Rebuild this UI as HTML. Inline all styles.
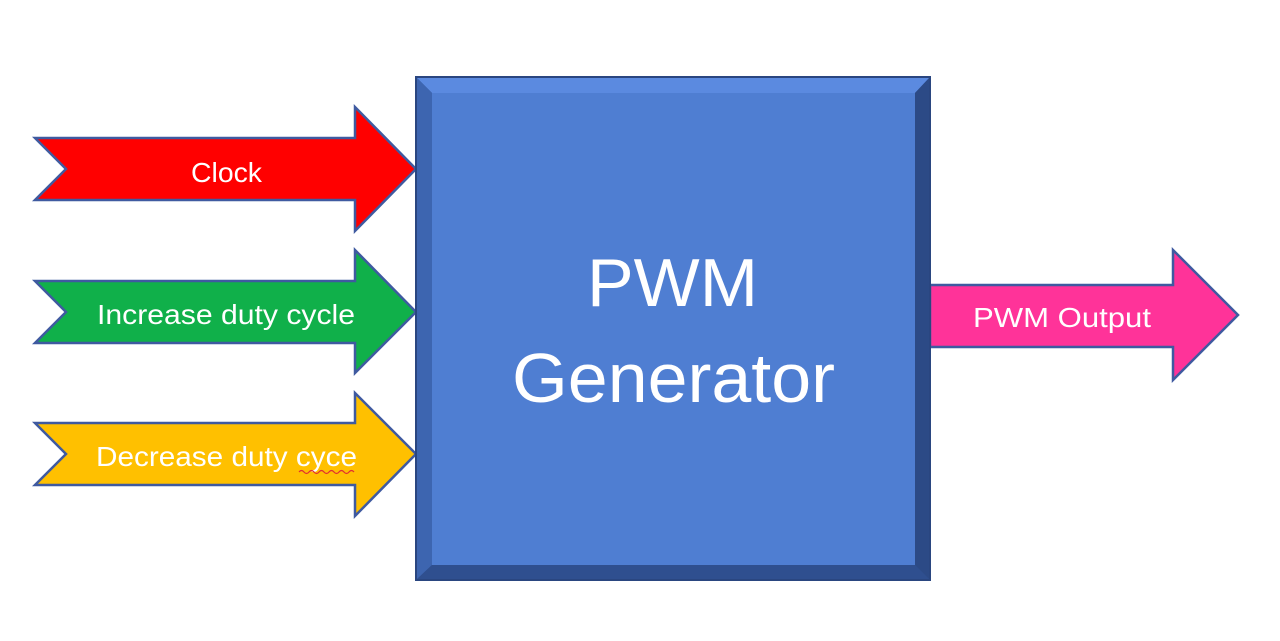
<!DOCTYPE html>
<html><head><meta charset="utf-8"><style>
html,body{margin:0;padding:0;background:#fff;width:1280px;height:641px;overflow:hidden}
</style></head><body>
<svg width="1280" height="641" viewBox="0 0 1280 641" xmlns="http://www.w3.org/2000/svg" font-family="Liberation Sans, sans-serif">
<polygon points="35,138 355,138 355,107 416,169 355,231 355,200 35,200 66,169" fill="#ff0000" stroke="#3f5aa0" stroke-width="2.5"/>
<polygon points="35,281 355,281 355,250 416,312 355,373 355,343 35,343 66,312" fill="#10b04a" stroke="#3f5aa0" stroke-width="2.5"/>
<polygon points="35,423 355,423 355,393 416,454 355,516 355,485 35,485 66,454" fill="#ffc000" stroke="#3f5aa0" stroke-width="2.5"/>
<polygon points="930,285 1173,285 1173,250 1238,315 1173,380 1173,347 930,347" fill="#ff3399" stroke="#3f5aa0" stroke-width="2.5"/>
<rect x="416" y="77" width="514" height="503" fill="#2f4f8f"/>
<polygon points="416,77 930,77 915,93 432,93" fill="#5b8ae0"/>
<polygon points="416,77 432,93 432,565 416,580" fill="#3d65b0"/>
<polygon points="930,77 930,580 915,565 915,93" fill="#2c4a86"/>
<polygon points="416,580 930,580 915,565 432,565" fill="#2f4f8f"/>
<rect x="432" y="93" width="483" height="472" fill="#4f7ed2"/>
<rect x="416" y="77" width="514" height="503" fill="none" stroke="#2a4680" stroke-width="2"/>
<g fill="#fff">
<text x="191" y="182" font-size="28" textLength="71" lengthAdjust="spacingAndGlyphs">Clock</text>
<text x="97" y="324" font-size="28" textLength="258" lengthAdjust="spacingAndGlyphs">Increase duty cycle</text>
<text x="96" y="466" font-size="28" textLength="261" lengthAdjust="spacingAndGlyphs">Decrease duty cyce</text>
<text x="973" y="327" font-size="28" textLength="178" lengthAdjust="spacingAndGlyphs">PWM Output</text>
<text x="587" y="306" font-size="68" textLength="171" lengthAdjust="spacingAndGlyphs">PWM</text>
<text x="512" y="402" font-size="70" textLength="323" lengthAdjust="spacingAndGlyphs">Generator</text>
</g>
<path d="M299,472 q2.5,-3 5,0 t5,0 t5,0 t5,0 t5,0 t5,0 t5,0 t5,0 t5,0 t5,0 t5,0" fill="none" stroke="#e03030" stroke-width="1.2"/>
</svg>
</body></html>
